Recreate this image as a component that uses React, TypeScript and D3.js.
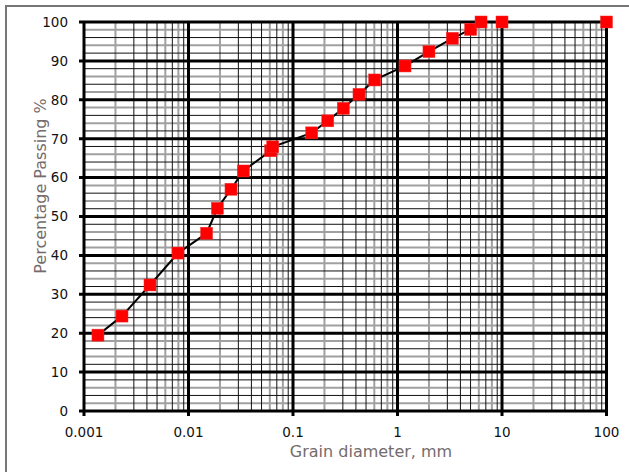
import React, { useEffect, useRef } from 'react';
import * as d3 from 'd3';

// sieve / hydrometer results
const grainSizes = [0.00136, 0.00231, 0.00428, 0.00794, 0.0149, 0.0189, 0.0255, 0.0335, 0.0611, 0.064, 0.151, 0.215, 0.303, 0.428, 0.605, 1.18, 2.0, 3.35, 5.01, 6.3, 10, 100];
const percentPassing = [19.5, 24.4, 32.4, 40.6, 45.7, 52.1, 57.0, 61.7, 66.9, 67.9, 71.5, 74.6, 77.8, 81.4, 85.1, 88.7, 92.4, 95.8, 98.1, 100, 100, 100];

const xTicks = [0.001, 0.01, 0.1, 1, 10, 100];
const xTickLabels = ['0.001', '0.01', '0.1', '1', '10', '100'];
const yTicks = [0, 10, 20, 30, 40, 50, 60, 70, 80, 90, 100];

const App = () => {
  const svgRef = useRef<SVGSVGElement>(null);
  const width = 629;
  const height = 472;

  useEffect(() => {
    const svg = d3.select(svgRef.current);
    svg.selectAll('*').remove();

    const margin = { top: 22, right: 22.5, bottom: 61, left: 84 };
    const xScale = d3.scaleLog().domain([0.001, 100]).range([margin.left, width - margin.right]);
    const yScale = d3.scaleLinear().domain([0, 100]).range([height - margin.bottom, margin.top]);
    const [x0, x1] = xScale.range();
    const [y0, y1] = yScale.range();

    // chart frame
    svg.append('rect')
      .attr('x', 6).attr('y', 6)
      .attr('width', 640).attr('height', 480)
      .attr('fill', '#fff')
      .attr('stroke', '#767676')
      .attr('stroke-width', 2);

    const grid = svg.append('g');

    // minor vertical lines
    const minorX: { v: number; gray: boolean }[] = [];
    xTicks.slice(0, -1).forEach(d => {
      for (let k = 2; k <= 9; k++) minorX.push({ v: d * k, gray: [2, 6, 8].includes(k) });
    });
    // minor horizontal lines
    const minorY: { v: number; gray: boolean }[] = [];
    for (let v = 2; v < 100; v += 2) {
      if (v % 10 !== 0) minorY.push({ v, gray: v % 4 === 2 });
    }

    const drawMinor = (gray: boolean) => {
      grid.selectAll(null)
        .data(minorX.filter(m => m.gray === gray))
        .enter().append('line')
        .attr('x1', d => xScale(d.v)).attr('x2', d => xScale(d.v))
        .attr('y1', y1).attr('y2', y0)
        .attr('stroke', gray ? '#a0a0a0' : '#111')
        .attr('stroke-width', gray ? 2 : 1);
      grid.selectAll(null)
        .data(minorY.filter(m => m.gray === gray))
        .enter().append('line')
        .attr('x1', x0).attr('x2', x1)
        .attr('y1', d => yScale(d.v)).attr('y2', d => yScale(d.v))
        .attr('stroke', gray ? '#a0a0a0' : '#111')
        .attr('stroke-width', gray ? 2 : 1);
    };
    drawMinor(true);
    drawMinor(false);

    // major lines
    grid.selectAll(null)
      .data(xTicks)
      .enter().append('line')
      .attr('x1', d => xScale(d)).attr('x2', d => xScale(d))
      .attr('y1', y1).attr('y2', y0 + 5)
      .attr('stroke', '#000')
      .attr('stroke-width', 3);
    grid.selectAll(null)
      .data(yTicks)
      .enter().append('line')
      .attr('x1', x0 - 5).attr('x2', x1)
      .attr('y1', d => yScale(d)).attr('y2', d => yScale(d))
      .attr('stroke', '#000')
      .attr('stroke-width', 3);

    // tick labels
    svg.append('g').selectAll('text')
      .data(yTicks)
      .enter().append('text')
      .attr('x', x0 - 16)
      .attr('y', d => yScale(d))
      .attr('dy', '0.36em')
      .attr('text-anchor', 'end')
      .style('font-family', 'DejaVu Sans')
      .style('font-size', '13.5px')
      .style('fill', '#111')
      .text(d => d);

    svg.append('g').selectAll('text')
      .data(xTicks)
      .enter().append('text')
      .attr('x', d => xScale(d))
      .attr('y', y0 + 26)
      .attr('text-anchor', 'middle')
      .style('font-family', 'DejaVu Sans')
      .style('font-size', '13.5px')
      .style('fill', '#111')
      .text((d, i) => xTickLabels[i]);

    // axis titles
    svg.append('text')
      .attr('x', 371)
      .attr('y', 457)
      .attr('text-anchor', 'middle')
      .style('font-family', 'DejaVu Sans')
      .style('font-size', '16px')
      .style('fill', '#756b6b')
      .text('Grain diameter, mm');

    svg.append('text')
      .attr('transform', 'translate(46, 186) rotate(-90)')
      .attr('text-anchor', 'middle')
      .style('font-family', 'DejaVu Sans')
      .style('font-size', '16px')
      .style('fill', '#756b6b')
      .text('Percentage Passing %');

    // grading curve
    const pts = grainSizes.map((g, i) => [g, percentPassing[i]] as [number, number]);
    const line = d3.line<[number, number]>()
      .x(d => xScale(d[0]))
      .y(d => yScale(d[1]));

    svg.append('path')
      .datum(pts)
      .attr('d', line)
      .attr('fill', 'none')
      .attr('stroke', '#000')
      .attr('stroke-width', 2);

    const size = 12;
    svg.selectAll('.marker')
      .data(pts)
      .enter().append('rect')
      .attr('class', 'marker')
      .attr('x', d => xScale(d[0]) - size / 2)
      .attr('y', d => yScale(d[1]) - size / 2)
      .attr('width', size)
      .attr('height', size)
      .attr('fill', '#ff0000')
      .attr('stroke', '#f03030')
      .attr('stroke-width', 0.5);
  }, []);

  return (
    <svg ref={svgRef} width={width} height={height}
      style={{ position: 'absolute', left: 0, top: 0, background: '#fff' }}></svg>
  );
};

export default App;
